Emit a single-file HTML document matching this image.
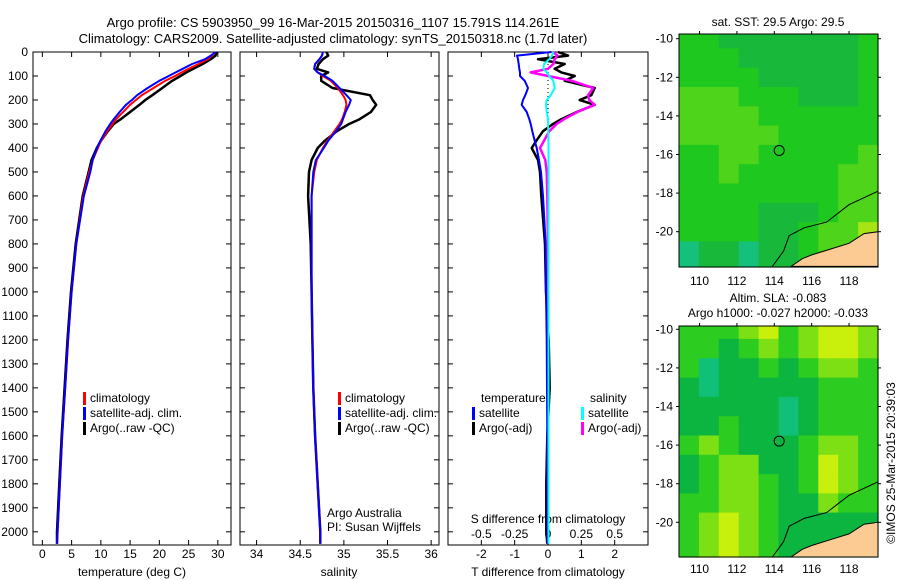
<!DOCTYPE html>
<html><head><meta charset="utf-8"><style>
body{margin:0;background:#fff;overflow:hidden}
svg{display:block;font-family:"Liberation Sans",sans-serif}
</style></head><body>
<svg id="c" width="900" height="580" viewBox="0 0 900 580" xmlns="http://www.w3.org/2000/svg">
<rect width="900" height="580" fill="#fff"/>
<text x="333" y="27" font-size="13" text-anchor="middle">Argo profile: CS 5903950_99 16-Mar-2015 20150316_1107 15.791S 114.261E</text>
<text x="333" y="43" font-size="13" text-anchor="middle">Climatology: CARS2009. Satellite-adjusted climatology: synTS_20150318.nc (1.7d later)</text>
<text x="778" y="26" font-size="12" text-anchor="middle">sat. SST: 29.5 Argo: 29.5</text>
<text x="778" y="302" font-size="12" text-anchor="middle">Altim. SLA: -0.083</text>
<text x="778" y="317" font-size="12" text-anchor="middle">Argo h1000: -0.027 h2000: -0.033</text>
<text transform="translate(895,463) rotate(-90)" font-size="12" text-anchor="middle">©IMOS 25-Mar-2015 20:39:03</text>
<g id="g"></g>
</svg>
<script>
// ---- profile data (depth m) ----
const depths = [0,15,30,50,70,85,100,120,150,180,200,220,250,280,300,330,370,400,450,500,600,800,1000,1200,1400,1600,1800,2000,2050];
const tempClim = [29.6,29.0,28.3,26.7,25.0,23.8,22.7,21.0,19.0,17.0,16.0,15.0,13.8,12.6,12.0,11.1,10.0,9.5,8.6,8.0,7.0,5.8,5.0,4.4,3.9,3.4,3.0,2.6,2.5];
const tempSat  = [29.6,28.8,27.8,25.6,24.0,22.8,21.6,20.0,18.0,16.2,15.3,14.3,13.2,12.2,11.6,10.8,9.9,9.35,8.6,8.2,7.1,5.8,5.0,4.4,3.9,3.4,3.0,2.6,2.5];
const tempArgo = [29.8,29.6,28.8,27.4,25.8,24.6,23.6,22.2,20.5,18.8,17.6,16.6,15.0,13.4,12.2,11.2,10.0,9.3,8.4,7.9,6.9,5.7,4.9,4.3,3.8,3.3,2.9,2.5,2.5];
const salClim  = [34.76,34.75,34.72,34.67,34.66,34.70,34.76,34.85,34.93,34.99,35.02,35.03,35.01,34.98,34.95,34.89,34.81,34.76,34.69,34.66,34.63,34.63,34.63,34.64,34.65,34.67,34.70,34.73,34.73];
const salSat   = [34.76,34.75,34.72,34.67,34.66,34.70,34.78,34.87,34.95,35.03,35.08,35.06,35.02,34.99,34.97,34.91,34.82,34.77,34.68,34.65,34.63,34.63,34.63,34.64,34.65,34.67,34.70,34.73,34.73];
const salArgo  = [34.80,34.82,34.76,34.71,34.69,34.82,34.74,34.74,34.87,35.30,35.33,35.37,35.31,35.18,35.06,34.92,34.78,34.70,34.63,34.60,34.59,34.62,34.63,34.64,34.65,34.67,34.70,34.73,34.73];
const dTsat    = [0.1,-0.93,-0.9,-0.88,-0.86,-0.84,-0.84,-0.7,-0.6,-0.68,-0.75,-0.79,-0.64,-0.56,-0.52,-0.47,-0.4,-0.34,-0.27,-0.21,-0.15,-0.07,-0.06,-0.04,-0.03,-0.02,-0.02,-0.01,-0.01];
const dTargo   = [0.3,0.6,-0.3,0.5,0.2,0.4,0.8,0.5,1.4,1.3,0.95,1.4,0.86,0.4,0.15,-0.15,-0.35,-0.49,-0.3,-0.24,-0.2,-0.09,-0.06,0.02,0.05,-0.02,-0.05,-0.05,-0.02];
const dSsat    = [0.04,0.03,0.01,-0.03,-0.035,-0.01,0.01,0.04,0.05,0.02,-0.01,-0.015,-0.01,0.0,0.0,0.002,0.003,0.004,0.004,0.004,0.004,0.004,0.004,0.004,0.004,0.004,0.004,0.004,0.004];
const dSargo   = [0.04,0.07,0.05,0.04,0.0,-0.13,0.0,0.18,0.34,0.30,0.31,0.35,0.22,0.12,0.065,0.01,-0.03,-0.06,-0.02,-0.01,-0.005,0.0,0.0,0.0,0.0,0.0,0.0,0.0,0.0];
const depthTicks = [0,100,200,300,400,500,600,700,800,900,1000,1100,1200,1300,1400,1500,1600,1700,1800,1900,2000];
const tempTicks = [0,5,10,15,20,25,30];
const salTicks = [34,34.5,35,35.5,36];
const salTickLabels = ["34","34.5","35","35.5","36"];
const tdTicks = [-2,-1,0,1,2];
const sdTicks = [-0.5,-0.25,0,0.25,0.5];
const sdTickLabels = ["-0.5","-0.25","0","0.25","0.5"];
const lonTicks = [110,112,114,116,118];
const latTicks = [-10,-12,-14,-16,-18,-20];
// map grids: rows lat -10..-21, cols lon 109..119.5 (10 cols)
const sstGrid = [
[2,2,1,1,1,1,1,1,1,2],[2,2,2,1,1,1,1,1,1,2],[2,2,2,2,1,1,1,1,1,2],[3,3,3,2,2,2,1,1,1,2],
[3,3,3,3,2,2,2,2,2,2],[3,3,3,3,3,2,2,2,2,2],[2,2,3,3,2,2,2,2,2,3],[2,2,3,2,2,2,2,2,3,3],
[2,2,2,2,2,2,2,2,3,3],[2,2,2,2,1,1,1,2,3,3],[2,2,2,2,1,1,2,3,3,4],[0,1,1,0,1,1,2,3,3,4]];
const slaGrid = [
[2,2,2,3,4,2,3,4,4,3],[2,2,1,2,3,2,3,4,4,3],[2,0,1,1,2,1,2,3,3,2],[1,0,1,1,1,1,1,2,2,2],
[1,1,1,1,1,0,1,2,2,2],[1,1,2,1,1,0,1,2,2,2],[2,3,2,1,1,1,2,3,3,2],[1,2,3,3,1,1,2,4,3,2],
[1,2,3,3,2,1,2,4,3,2],[2,2,3,3,2,1,1,3,2,2],[2,3,4,3,2,1,1,1,1,1],[2,3,4,3,2,1,1,1,1,1]];
const landLon = [114.9,115.5,116,117,118,118.8,119.55,119.55];
const landLat = [-21.8,-21.4,-21.2,-20.9,-20.6,-20.1,-20.0,-21.8];
const contLon = [113.9,114.5,114.8,115.6,116.8,118,119.55];
const contLat = [-21.8,-21.0,-20.2,-19.8,-19.5,-18.6,-17.9];
const argoLon = 114.261, argoLat = -15.791;

const NS="http://www.w3.org/2000/svg", G=document.getElementById('g');
function mk(tag,at,parent){const e=document.createElementNS(NS,tag);for(const k in at)e.setAttribute(k,at[k]);(parent||G).appendChild(e);return e;}
function txt(x,y,s,size,anchor,parent){const t=mk('text',{x:x,y:y,'font-size':size,'text-anchor':anchor||'start'},parent);t.textContent=s;return t;}

const Y0=52, Y1=545, yD=d=>Y0+d*(Y1-Y0)/2055;
const panels=[
 {x0:33,x1:231,min:-1.6,max:32.25,name:'temperature-panel'},
 {x0:240,x1:439,min:33.81,max:36.09,name:'salinity-panel'},
 {x0:448,x1:648,min:-3,max:3,name:'difference-panel'}];
function xs(p,v){return p.x0+(v-p.min)*(p.x1-p.x0)/(p.max-p.min);}
panels.forEach((p,i)=>{
 const g=mk('g',{});
 
 
 const r=mk('rect',{x:p.x0,y:Y0,width:p.x1-p.x0,height:Y1-Y0,fill:'none',stroke:'#000','stroke-width':1},g);
 
 
 depthTicks.forEach(d=>{
  mk('line',{x1:p.x0,x2:p.x0+5,y1:yD(d),y2:yD(d),stroke:'#000'},g);
  mk('line',{x1:p.x1-5,x2:p.x1,y1:yD(d),y2:yD(d),stroke:'#000'},g);
 });
});
depthTicks.forEach(d=>{const t=txt(28,yD(d)+4,String(d),12,'end');
 
 });
function xTicks(p,vals,labels,ly){vals.forEach((v,k)=>{const x=xs(p,v);
 mk('line',{x1:x,x2:x,y1:Y0,y2:Y0+5,stroke:'#000'});
 mk('line',{x1:x,x2:x,y1:Y1-5,y2:Y1,stroke:'#000'});
 const t=txt(x,ly,labels[k],12,'middle');
 
 });}
xTicks(panels[0],tempTicks,tempTicks.map(String),558);
xTicks(panels[1],salTicks,salTickLabels,558);
xTicks(panels[2],tdTicks,tdTicks.map(String),558);
const sdx=v=>xs(panels[2],v*4);
sdTicks.forEach((v,k)=>{const t=txt(sdx(v),538,sdTickLabels[k],12,'middle');
 
 });
[['temperature (deg C)',132,'temperature-axis-title'],['salinity',339,'salinity-axis-title'],['T difference from climatology',548,'t-diff-axis-title']].forEach(a=>{
 const t=txt(a[1],576,a[0],12,'middle');
 
 });
const st=txt(548,523,'S difference from climatology',12,'middle');


mk('line',{x1:548,x2:548,y1:Y0,y2:Y1,stroke:'#000','stroke-dasharray':'1,3'});
function series(vals,sc,color,w,name){
 const pts=vals.map((v,k)=>sc(v).toFixed(1)+','+yD(depths[k]).toFixed(1)).join(' ');
 const l=mk('polyline',{points:pts,fill:'none',stroke:color,'stroke-width':w,'stroke-linejoin':'round'});
 
 
}
const tx=v=>xs(panels[0],v), sx=v=>xs(panels[1],v), dx=v=>xs(panels[2],v);
series(tempArgo,tx,'#000',2.5,'temp-argo-line');
series(tempClim,tx,'#f00',2,'temp-clim-line');
series(tempSat,tx,'#00f',2,'temp-sat-line');
series(salArgo,sx,'#000',2.5,'sal-argo-line');
series(salClim,sx,'#f00',2,'sal-clim-line');
series(salSat,sx,'#00f',2,'sal-sat-line');
series(dTargo,dx,'#000',2.5,'tdiff-argo-line');
series(dSargo,sdx,'#f0f',2.5,'sdiff-argo-line');
series(dTsat,dx,'#00f',2,'tdiff-sat-line');
series(dSsat,sdx,'#0ff',2,'sdiff-sat-line');
function leg(x,y,color,label,name){
 mk('rect',{x:x,y:y-10,width:3,height:13,fill:color});
 const t=txt(x+7,y,label,12,'start');
 
 }
[83,338].forEach(x=>{leg(x,402,'#f00','climatology','legend-climatology');leg(x,417,'#00f','satellite-adj. clim.','legend-satellite-adj');leg(x,432,'#000','Argo(..raw -QC)','legend-argo');});
let t1=txt(481,402,'temperature',12,'start');
let t2=txt(590,402,'salinity',12,'start');
leg(472,417,'#00f','satellite','legend-t-satellite');leg(472,432,'#000','Argo(-adj)','legend-t-argo');
leg(581,417,'#0ff','satellite','legend-s-satellite');leg(581,432,'#f0f','Argo(-adj)','legend-s-argo');
let a1=txt(327,517,'Argo Australia',12,'start');
let a2=txt(327,531,'PI: Susan Wijffels',12,'start');
// maps
const sstCol=['#14c07c','#18b83a','#1ec81e','#4ed41a','#a8e414'];
const slaCol=['#10c078','#0cb440','#2ccc20','#7ce014','#c8f00c'];
function drawMap(top,bot,tickY10,grid,cols,name,labelY){
 const L=679,R=878,lon0=108.9,lon1=119.55,ppd=19.3;
 const mx=v=>L+(v-lon0)*(R-L)/(lon1-lon0), my=v=>tickY10+(-10-v)*ppd;
 const g=mk('g',{});
 
 
 const cw=(R-L)/10, nr=grid.length;
 grid.forEach((row,r)=>row.forEach((v,c)=>{
  const y0=r===0?top:my(-9.5-r), y1=r===nr-1?bot:my(-10.5-r);
  const cell=mk('rect',{x:(L+c*cw).toFixed(1),y:y0.toFixed(1),width:(cw+0.6).toFixed(1),height:(y1-y0+0.6).toFixed(1),fill:cols[v]},g);
  
  
 }));
 const land=mk('polygon',{points:landLon.map((v,k)=>mx(v).toFixed(1)+','+Math.min(bot,my(landLat[k])).toFixed(1)).join(' '),fill:'#fccb94',stroke:'#000','stroke-width':1},g);
 
 
 const cl=mk('polyline',{points:contLon.map((v,k)=>mx(v).toFixed(1)+','+Math.min(bot,my(contLat[k])).toFixed(1)).join(' '),fill:'none',stroke:'#000','stroke-width':1},g);
 
 
 const ci=mk('circle',{cx:mx(argoLon),cy:my(argoLat),r:5,fill:'none',stroke:'#000','stroke-width':1},g);
 
 
 mk('rect',{x:L,y:top,width:R-L,height:bot-top,fill:'none',stroke:'#000'},g);
 lonTicks.forEach(v=>{const x=mx(v);mk('line',{x1:x,x2:x,y1:top-3,y2:top,stroke:'#000'});
  const t=txt(x,labelY,String(v),12,'middle');});
 latTicks.forEach(v=>{const y=my(v);mk('line',{x1:L-3,x2:L,y1:y,y2:y,stroke:'#000'});mk('line',{x1:R,x2:R+3,y1:y,y2:y,stroke:'#000'});
  const t=txt(673,y+4,String(v),12,'end');});
}
drawMap(34,267,38.7,sstGrid,sstCol,'sst-map',285);
drawMap(326,557,329.3,slaGrid,slaCol,'sla-map',573);
</script>
</body></html>
